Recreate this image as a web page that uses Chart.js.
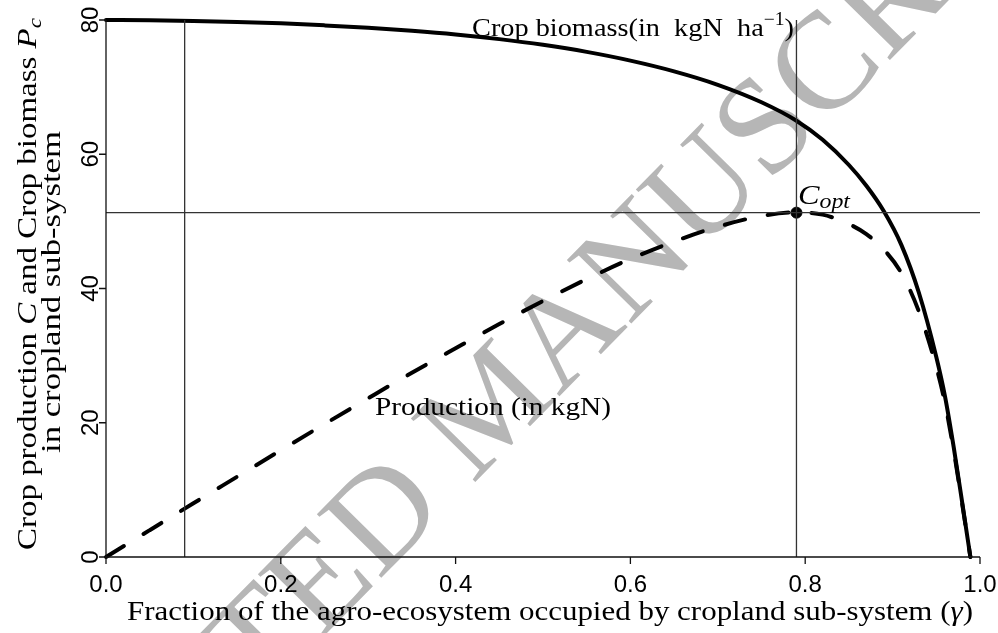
<!DOCTYPE html>
<html>
<head>
<meta charset="utf-8">
<script src="https://cdn.jsdelivr.net/npm/chart.js@4/dist/chart.umd.min.js"></script>
<style>
html,body{margin:0;padding:0;background:#fff;}
#wrap{width:998px;height:633px;position:relative;}
</style>
</head>
<body>
<div id="wrap"><canvas id="c" width="998" height="633"></canvas></div>
<script>
// ---- data ----
const gamma = [0, 0.05, 0.1, 0.15, 0.2, 0.25, 0.3, 0.35, 0.4, 0.45, 0.5, 0.55, 0.6, 0.65, 0.7, 0.75, 0.79, 0.82, 0.85, 0.87, 0.89, 0.91, 0.93, 0.95, 0.96, 0.97, 0.98, 0.989];
const cropBiomass = [80.0, 79.95, 79.85, 79.7, 79.5, 79.2, 78.85, 78.4, 77.85, 77.15, 76.3, 75.25, 73.95, 72.35, 70.35, 67.75, 65.0, 62.15, 58.4, 55.3, 51.5, 46.5, 39.4, 29.8, 23.9, 16.3, 7.8, 0];
const cropProduction = [0, 4.0, 8.0, 11.95, 15.9, 19.8, 23.65, 27.45, 31.1, 34.7, 38.15, 41.4, 44.4, 47.0, 49.2, 50.8, 51.35, 51.0, 49.6, 48.1, 45.8, 42.3, 36.6, 28.3, 22.9, 15.8, 7.6, 0];
const xTicks = [0, 0.2, 0.4, 0.6, 0.8, 1.0];
const xTickLabels = ["0.0", "0.2", "0.4", "0.6", "0.8", "1.0"];
const yTicks = [0, 20, 40, 60, 80];
const yTickLabels = ["0", "20", "40", "60", "80"];
const gammaLow = [0.09];
const gammaOpt = [0.79];
const cOpt = [51.3];
const xRange = [0, 1];
const yRange = [0, 80];

// ---- build datasets ----
const pts = (xs, ys) => xs.map((x, i) => ({x: x, y: ys[i]}));
const thin = {borderColor: '#333', borderWidth: 1.3, pointRadius: 0, fill: false, clip: false};
const datasets = [
  Object.assign({label: 'vline-low', data: [{x: gammaLow[0], y: yRange[0]}, {x: gammaLow[0], y: yRange[1]}]}, thin),
  Object.assign({label: 'vline-opt', data: [{x: gammaOpt[0], y: yRange[0]}, {x: gammaOpt[0], y: yRange[1]}]}, thin),
  Object.assign({label: 'hline-opt', data: [{x: xRange[0], y: cOpt[0]}, {x: xRange[1], y: cOpt[0]}]}, thin),
  {label: 'Crop biomass', data: pts(gamma, cropBiomass), borderColor: '#000', borderWidth: 4,
   pointRadius: 0, cubicInterpolationMode: 'monotone', fill: false, clip: false, borderCapStyle: 'round'},
  {label: 'Production', data: pts(gamma, cropProduction), borderColor: '#000', borderWidth: 4,
   borderDash: [21, 23], borderCapStyle: 'round', pointRadius: 0, cubicInterpolationMode: 'monotone', fill: false, clip: false},
  {label: 'Copt', data: [{x: gammaOpt[0], y: cOpt[0]}], showLine: false, pointRadius: 5.5,
   pointBackgroundColor: '#000', pointBorderColor: '#000', clip: false}
];

const SERIF = '"Liberation Serif", "Times New Roman", serif';
const SANS = '"Liberation Sans", Arial, sans-serif';

function fontOf(p, base) {
  return (p.it ? 'italic ' : '') + (p.size || base) + 'px ' + SERIF;
}
// draw a run of text parts, stretched horizontally to a target width
function richText(ctx, parts, x, y, base, targetW, align, rot) {
  const widths = parts.map(p => { ctx.font = fontOf(p, base); return ctx.measureText(p.t).width; });
  const w = widths.reduce((a, b) => a + b, 0);
  const sx = targetW ? targetW / w : 1;
  ctx.save();
  ctx.translate(x, y);
  if (rot) ctx.rotate(rot);
  ctx.scale(sx, 1);
  let cx = align === 'center' ? -w / 2 : (align === 'right' ? -w : 0);
  ctx.textAlign = 'left';
  ctx.textBaseline = 'alphabetic';
  ctx.fillStyle = '#000';
  parts.forEach((p, i) => {
    ctx.font = fontOf(p, base);
    ctx.fillText(p.t, cx, p.dy || 0);
    cx += widths[i];
  });
  ctx.restore();
}

const decor = {
  id: 'decor',
  beforeDraw(chart) {
    const ctx = chart.ctx;
    ctx.save();
    ctx.fillStyle = '#fff';
    ctx.fillRect(0, 0, chart.width, chart.height);
    // watermark, anchored on the centre of its "D"
    const em = 138;
    ctx.font = em + 'px ' + SERIF;
    const pre = ctx.measureText('ACCEPTE').width + ctx.measureText('D').width / 2;
    ctx.translate(381, 513);
    ctx.rotate(-45.5 * Math.PI / 180);
    ctx.fillStyle = 'rgb(182,182,182)';
    ctx.textAlign = 'left';
    ctx.textBaseline = 'alphabetic';
    ctx.fillText('ACCEPTED MANUSCRIPT', -pre, 0.33 * em);
    ctx.restore();
  },
  afterDraw(chart) {
    const ctx = chart.ctx;
    const xs = chart.scales.x, ys = chart.scales.y;
    const x0 = xs.getPixelForValue(xRange[0]), x1 = xs.getPixelForValue(xRange[1]);
    const y0 = ys.getPixelForValue(yRange[0]), y1 = ys.getPixelForValue(yRange[1]);
    ctx.save();
    ctx.strokeStyle = '#111';
    ctx.lineWidth = 1.3;
    ctx.beginPath();
    // x axis
    ctx.moveTo(x0, y0); ctx.lineTo(x1, y0);
    xTicks.forEach(v => { const px = xs.getPixelForValue(v); ctx.moveTo(px, y0); ctx.lineTo(px, y0 + 7); });
    // y axis
    ctx.moveTo(x0, y0); ctx.lineTo(x0, y1);
    yTicks.forEach(v => { const py = ys.getPixelForValue(v); ctx.moveTo(x0, py); ctx.lineTo(x0 - 7, py); });
    ctx.stroke();
    // tick labels
    ctx.fillStyle = '#000';
    ctx.font = '24px ' + SANS;
    ctx.textAlign = 'center';
    ctx.textBaseline = 'alphabetic';
    xTicks.forEach((v, i) => ctx.fillText(xTickLabels[i], xs.getPixelForValue(v), 592));
    yTicks.forEach((v, i) => {
      ctx.save();
      ctx.translate(98, ys.getPixelForValue(v));
      ctx.rotate(-Math.PI / 2);
      ctx.fillText(yTickLabels[i], 0, 0);
      ctx.restore();
    });
    ctx.restore();

    // axis titles
    richText(ctx, [{t: 'Fraction of the agro-ecosystem occupied by cropland sub-system ('}, {t: 'γ', it: true}, {t: ')'}],
      550, 620, 27, 846, 'center');
    richText(ctx, [{t: 'Crop production '}, {t: 'C', it: true}, {t: ' and Crop biomass '}, {t: 'P', it: true}, {t: 'c', it: true, size: 19, dy: 5}],
      36, 284, 27, 532, 'center', -Math.PI / 2);
    richText(ctx, [{t: 'in cropland sub-system'}],
      60, 292, 27, 322, 'center', -Math.PI / 2);

    // in-plot annotations
    richText(ctx, [{t: 'Crop biomass(in  kgN  ha'}, {t: '−1', size: 18, dy: -11}, {t: ')'}],
      472, 36, 26, 322, 'left');
    richText(ctx, [{t: 'Production (in kgN)'}],
      375, 415, 26, 236, 'left');
    richText(ctx, [{t: 'C', it: true, size: 27}, {t: 'opt', it: true, size: 20, dy: 4}],
      798, 204, 27, 52, 'left');
  }
};

new Chart(document.getElementById('c'), {
  type: 'line',
  data: {datasets: datasets},
  options: {
    responsive: false,
    animation: false,
    devicePixelRatio: 1,
    layout: {padding: {left: 106, right: 18, top: 20, bottom: 76}},
    plugins: {legend: {display: false}, tooltip: {enabled: false}, title: {display: false}},
    scales: {
      x: {type: 'linear', min: xRange[0], max: xRange[1], display: false},
      y: {type: 'linear', min: yRange[0], max: yRange[1], display: false}
    }
  },
  plugins: [decor]
});
</script>
</body>
</html>
